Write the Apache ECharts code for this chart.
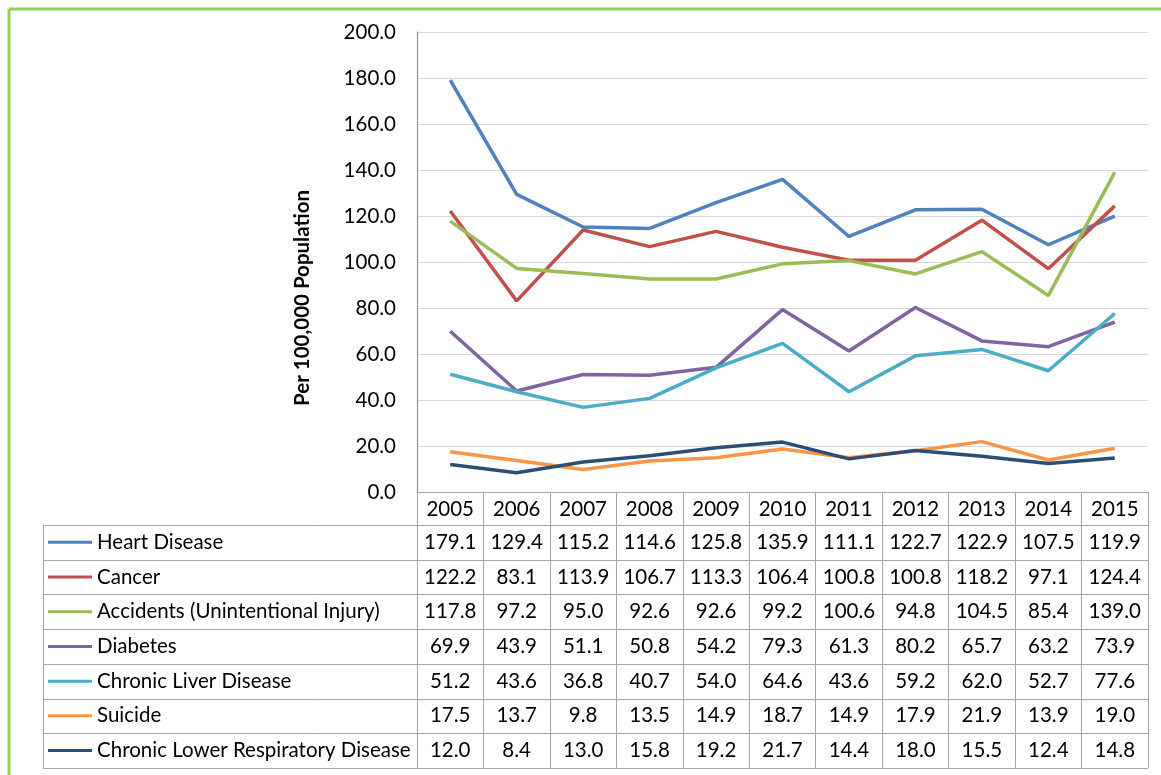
<!DOCTYPE html>
<html>
<head>
<meta charset="utf-8">
<script src="https://cdn.jsdelivr.net/npm/echarts@6/dist/echarts.min.js"></script>
<style>
  html, body { margin: 0; padding: 0; background: #fff; }
  #chart { width: 1161px; height: 775px; }
</style>
</head>
<body>
<div id="chart"></div>
<script>
const years = ['2005', '2006', '2007', '2008', '2009', '2010', '2011', '2012', '2013', '2014', '2015'];
const yTicks = [0, 20, 40, 60, 80, 100, 120, 140, 160, 180, 200];

const heartDisease = [179.1, 129.4, 115.2, 114.6, 125.8, 135.9, 111.1, 122.7, 122.9, 107.5, 119.9];
const cancer = [122.2, 83.1, 113.9, 106.7, 113.3, 106.4, 100.8, 100.8, 118.2, 97.1, 124.4];
const accidents = [117.8, 97.2, 95.0, 92.6, 92.6, 99.2, 100.6, 94.8, 104.5, 85.4, 139.0];
const diabetes = [69.9, 43.9, 51.1, 50.8, 54.2, 79.3, 61.3, 80.2, 65.7, 63.2, 73.9];
const liverDisease = [51.2, 43.6, 36.8, 40.7, 54.0, 64.6, 43.6, 59.2, 62.0, 52.7, 77.6];
const suicide = [17.5, 13.7, 9.8, 13.5, 14.9, 18.7, 14.9, 17.9, 21.9, 13.9, 19.0];
const respiratory = [12.0, 8.4, 13.0, 15.8, 19.2, 21.7, 14.4, 18.0, 15.5, 12.4, 14.8];

const seriesList = [
  { name: 'Heart Disease', data: heartDisease, color: '#4f81bd' },
  { name: 'Cancer', data: cancer, color: '#c0504d' },
  { name: 'Accidents (Unintentional Injury)', data: accidents, color: '#9bbb59' },
  { name: 'Diabetes', data: diabetes, color: '#8064a2' },
  { name: 'Chronic Liver Disease', data: liverDisease, color: '#4bacc6' },
  { name: 'Suicide', data: suicide, color: '#f79646' },
  { name: 'Chronic Lower Respiratory Disease', data: respiratory, color: '#2c4d75' },
];

const FONT = 'Lato, "Noto Sans", sans-serif';
const FS = 20.5;
const GRID_LINE = '#a6a6a6';
const TABLE_LEFT = 43;
const HEADER_H = 33;
const ROW_H = 34.7;

const chart = echarts.init(document.getElementById('chart'));

chart.setOption({
  backgroundColor: '#fff',
  animation: false,
  grid: { left: 417, top: 32, width: 731, height: 460 },
  xAxis: {
    type: 'category',
    data: years,
    boundaryGap: true,
    axisLine: { show: true, lineStyle: { color: GRID_LINE, width: 1 } },
    axisTick: {
      show: true,
      interval: 0,
      length: HEADER_H + ROW_H * seriesList.length,
      lineStyle: { color: GRID_LINE, width: 1 },
    },
    axisLabel: { color: '#000', fontFamily: FONT, fontSize: FS, margin: 7, interval: 0 },
  },
  yAxis: {
    type: 'value',
    min: yTicks[0],
    max: yTicks[yTicks.length - 1],
    interval: 20,
    axisLine: { show: true, lineStyle: { color: '#868686', width: 1 } },
    axisTick: { show: false },
    axisLabel: {
      color: '#000',
      fontFamily: FONT,
      fontSize: FS,
      margin: 21,
      formatter: v => v.toFixed(1),
    },
    splitLine: { lineStyle: { color: '#d9d9d9', width: 1 } },
  },
  series: seriesList.map(s => ({
    name: s.name,
    type: 'line',
    data: s.data,
    symbol: 'none',
    lineStyle: { color: s.color, width: 3.5 },
    itemStyle: { color: s.color },
  })),
});

// data table under the plot, placed from the axis scales
function drawTable() {
  const cx = years.map(y => chart.convertToPixel({ xAxisIndex: 0 }, y));
  const colW = cx[1] - cx[0];
  const left = cx[0] - colW / 2;
  const right = cx[cx.length - 1] + colW / 2;
  const y0 = chart.convertToPixel({ yAxisIndex: 0 }, 0);
  const rowTop = y0 + HEADER_H;
  const bottom = rowTop + ROW_H * seriesList.length;
  const els = [];
  const line = (x1, y1, x2, y2, color, w) => els.push({
    type: 'line',
    shape: { x1, y1, x2, y2 },
    style: { stroke: color, lineWidth: w },
    silent: true,
  });

  // green frame
  line(9, 9, 1161, 9, '#92d050', 3);
  line(9, 9, 9, 775, '#92d050', 3);

  // y axis title (Excel places it a bit below the plot middle)
  els.push({
    type: 'text',
    x: 302,
    y: 298,
    rotation: Math.PI / 2,
    style: {
      text: 'Per 100,000 Population',
      fill: '#000',
      font: 'bold 20.5px ' + FONT,
      align: 'center',
      verticalAlign: 'middle',
    },
    silent: true,
  });

  for (let i = 0; i <= seriesList.length; i++) {
    const y = Math.round(rowTop + ROW_H * i) + 0.5;
    line(TABLE_LEFT, y, right, y, GRID_LINE, 1);
  }
  line(TABLE_LEFT + 0.5, rowTop, TABLE_LEFT + 0.5, bottom, GRID_LINE, 1);
  line(Math.round(left) + 0.5, y0, Math.round(left) + 0.5, bottom, GRID_LINE, 1);

  seriesList.forEach((s, i) => {
    const my = rowTop + ROW_H * i + ROW_H / 2;
    line(TABLE_LEFT + 5, my, TABLE_LEFT + 49, my, s.color, 3);
    els.push({
      type: 'text',
      x: TABLE_LEFT + 54,
      y: my,
      style: { text: s.name, fill: '#000', font: FS + 'px ' + FONT, verticalAlign: 'middle', align: 'left' },
      silent: true,
    });
    s.data.forEach((v, j) => {
      els.push({
        type: 'text',
        x: cx[j],
        y: my,
        style: { text: v.toFixed(1), fill: '#000', font: FS + 'px ' + FONT, verticalAlign: 'middle', align: 'center' },
        silent: true,
      });
    });
  });

  chart.setOption({ graphic: { elements: els } });
}

drawTable();
</script>
</body>
</html>
